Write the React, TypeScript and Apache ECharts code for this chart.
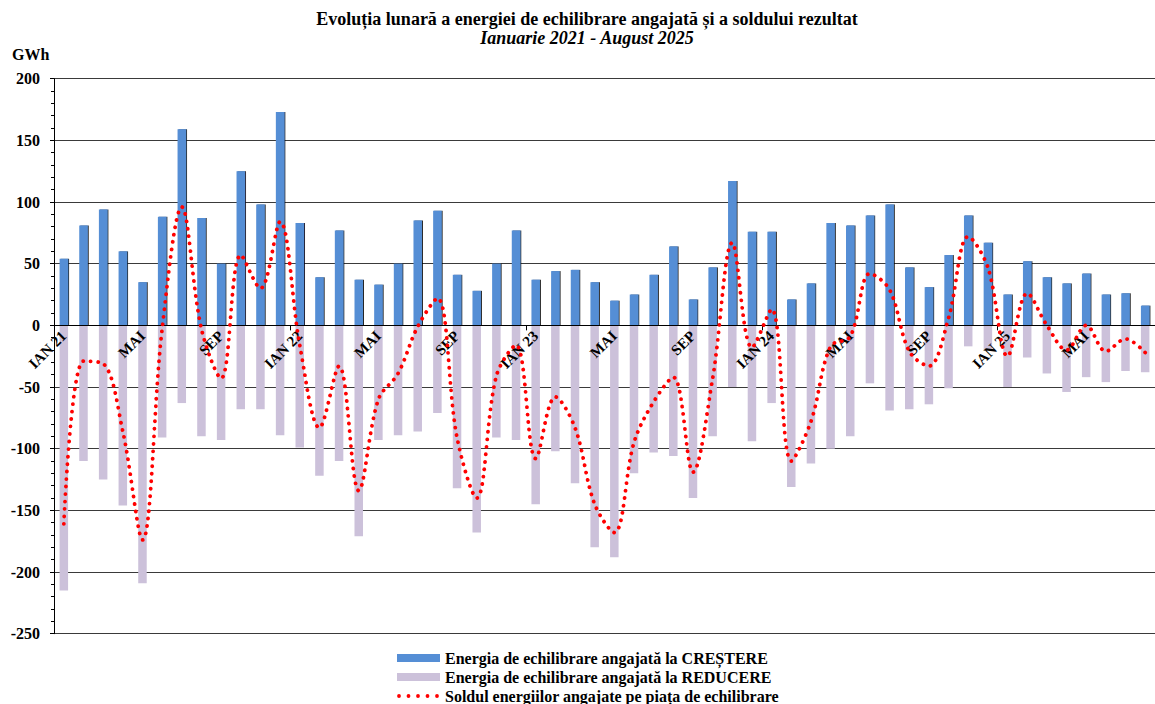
import React, { useEffect, useRef } from "react";
import * as echarts from "echarts";

const MONTHS = ["IAN", "FEB", "MAR", "APR", "MAI", "IUN", "IUL", "AUG", "SEP", "OCT", "NOI", "DEC"];
const YEARS = ["21", "22", "23", "24", "25"];
const MONTH_COUNT = 56; // Ianuarie 2021 - August 2025

const categories: string[] = [];
for (let i = 0; i < MONTH_COUNT; i++) {
  const m = i % 12;
  const y = Math.floor(i / 12);
  categories.push(m === 0 ? `IAN ${YEARS[y]}` : MONTHS[m]);
}

// Energia de echilibrare angajată la CREȘTERE (GWh)
const upValues = [
  54, 81, 94, 60, 35, 88, 159, 87, 50, 125, 98, 173,
  83, 39, 77, 37, 33, 50, 85, 93, 41, 28, 50, 77,
  37, 44, 45, 35, 20, 25, 41, 64, 21, 47, 117, 76,
  76, 21, 34, 83, 81, 89, 98, 47, 31, 57, 89, 67,
  25, 52, 39, 34, 42, 25, 26, 16,
];

// Energia de echilibrare angajată la REDUCERE (GWh)
const downValues = [
  -215, -110, -125, -146, -209, -91, -63, -90, -93, -68, -68, -89,
  -99, -122, -110, -171, -93, -89, -86, -71, -132, -168, -91, -93,
  -145, -102, -128, -180, -188, -120, -103, -106, -140, -90, -50, -94,
  -63, -131, -112, -100, -90, -47, -69, -68, -64, -51, -17, -20,
  -50, -26, -39, -54, -42, -46, -37, -38,
];

// Soldul energiilor angajate pe piața de echilibrare (GWh)
const balanceValues = [
  -161, -29, -31, -86, -174, -3, 96, -3, -43, 57, 30, 84,
  -16, -83, -33, -134, -60, -39, -1, 22, -91, -140, -41, -16,
  -108, -58, -83, -145, -168, -95, -62, -42, -119, -43, 67, -18,
  13, -110, -78, -17, -9, 42, 29, -21, -33, 6, 72, 47,
  -25, 26, 0, -20, 0, -21, -11, -22,
];

const yTicks = { min: -250, max: 200, interval: 50 };

const NAME_UP = "Energia de echilibrare angajată la CREȘTERE";
const NAME_DOWN = "Energia de echilibrare angajată la REDUCERE";
const NAME_BAL = "Soldul energiilor angajate pe piața de echilibrare";

const SERIF = '"Liberation Serif", "Times New Roman", serif';

const DOTS_ICON =
  "path://M0,0M43,8" +
  [2, 11.5, 21, 30.5, 40]
    .map((cx) => `M${cx - 1.9},4a1.9,1.9 0 1,0 3.8,0a1.9,1.9 0 1,0 -3.8,0Z`)
    .join("");

export default function App() {
  const ref = useRef<HTMLDivElement>(null);

  useEffect(() => {
    if (!ref.current) return;
    const chart = echarts.init(ref.current, undefined, { renderer: "svg" });
    const bandW = 19.85;
    const gridTop = 78.7;
    const gridH = 555;
    // distance from the bottom of the grid to the zero line
    const zeroOffset = (gridH * (0 - yTicks.min)) / (yTicks.max - yTicks.min);
    chart.setOption({
      animation: false,
      backgroundColor: "#ffffff",
      textStyle: { fontFamily: SERIF },
      graphic: [
        {
          type: "text",
          x: 587,
          y: 18.5,
          style: {
            text: "Evoluția lunară a energiei de echilibrare angajată și a soldului rezultat",
            font: `bold 18px ${SERIF}`,
            fill: "#000",
            align: "center",
            verticalAlign: "middle",
          },
        },
        {
          type: "text",
          x: 587,
          y: 37.5,
          style: {
            text: "Ianuarie 2021 - August 2025",
            font: `italic bold 18px ${SERIF}`,
            fill: "#000",
            align: "center",
            verticalAlign: "middle",
          },
        },
        {
          type: "text",
          x: 12,
          y: 54,
          style: {
            text: "GWh",
            font: `bold 16px ${SERIF}`,
            fill: "#000",
            align: "left",
            verticalAlign: "middle",
          },
        },
      ],
      grid: {
        left: 54,
        top: gridTop,
        width: bandW * MONTH_COUNT,
        height: gridH,
        containLabel: false,
      },
      legend: {
        orient: "vertical",
        left: 397,
        top: 650,
        itemWidth: 43,
        itemHeight: 8,
        itemGap: 3,
        padding: 0,
        selectedMode: false,
        itemStyle: { borderWidth: 0 },
        textStyle: {
          fontFamily: SERIF,
          fontWeight: "bold",
          fontSize: 16,
          color: "#000",
        },
        data: [
          { name: NAME_UP, icon: "rect" },
          { name: NAME_DOWN, icon: "rect" },
          { name: NAME_BAL, icon: DOTS_ICON },
        ],
      },
      xAxis: {
        type: "category",
        data: categories,
        boundaryGap: true,
        position: "bottom",
        offset: -zeroOffset,
        z: 4,
        axisLine: { onZero: false, lineStyle: { color: "#000", width: 1 } },
        axisTick: { show: true, interval: 11, length: 5, lineStyle: { color: "#000" } },
        axisLabel: {
          interval: 3,
          rotate: 45,
          margin: 8,
          color: "#000",
          fontFamily: SERIF,
          fontWeight: "bold",
          fontSize: 15,
        },
        splitLine: { show: false },
      },
      yAxis: {
        type: "value",
        min: yTicks.min,
        max: yTicks.max,
        interval: yTicks.interval,
        axisLine: { show: true, lineStyle: { color: "#000", width: 1 } },
        axisTick: { show: true, length: 4, lineStyle: { color: "#000" } },
        minorTick: { show: true, splitNumber: 5, length: 3, lineStyle: { color: "#000" } },
        axisLabel: {
          margin: 14,
          color: "#000",
          fontFamily: SERIF,
          fontWeight: "bold",
          fontSize: 16,
        },
        splitLine: { show: true, lineStyle: { color: "#3a3a3a", width: 1 } },
      },
      series: [
        {
          name: NAME_UP,
          type: "bar",
          data: upValues,
          barWidth: 8.5,
          barGap: "-100%",
          z: 2,
          itemStyle: {
            color: "#558ED5",
            shadowColor: "rgba(0,0,0,0.85)",
            shadowOffsetX: 1,
            shadowBlur: 0,
          },
        },
        {
          name: NAME_DOWN,
          type: "bar",
          data: downValues,
          barWidth: 8.5,
          barGap: "-100%",
          z: 2,
          itemStyle: { color: "#CCC1DA" },
        },
        {
          name: NAME_BAL,
          type: "line",
          data: balanceValues,
          smooth: 0.35,
          symbol: "none",
          showSymbol: false,
          z: 6,
          itemStyle: { color: "#FF0000" },
          lineStyle: { color: "#FF0000", width: 3.8, type: [0.1, 7.4], cap: "round" },
        },
      ],
    });
    return () => chart.dispose();
  }, []);

  return (
    <div
      ref={ref}
      style={{ position: "fixed", left: 0, top: 0, width: 1155, height: 704, background: "#fff" }}
    />
  );
}
